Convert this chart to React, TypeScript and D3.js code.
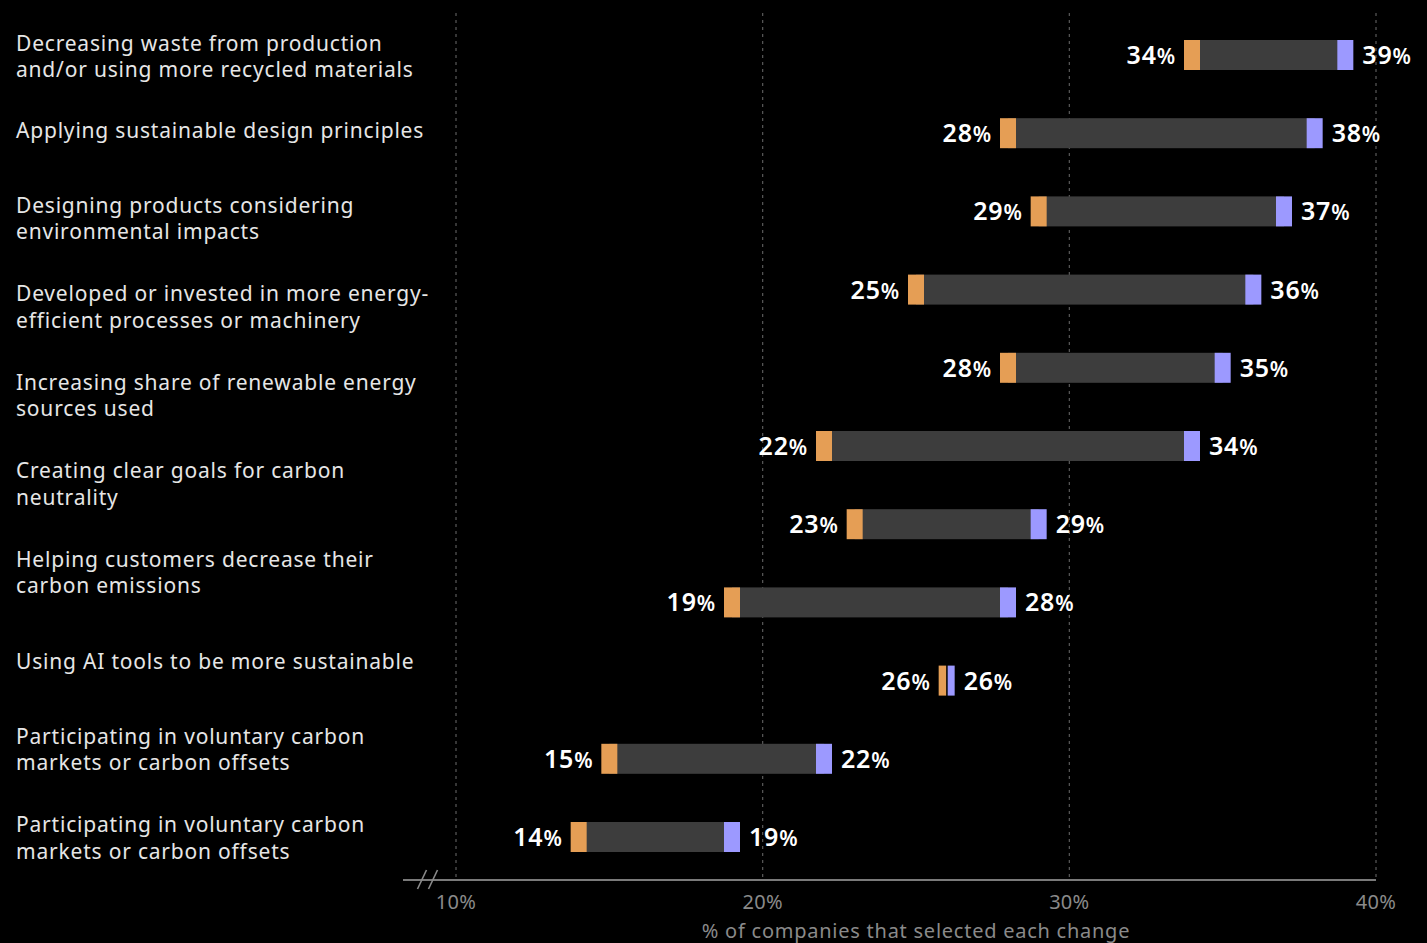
import React, { useEffect } from "react";
import * as d3 from "d3";

const labels: string[][] = [
  ["Decreasing waste from production", "and/or using more recycled materials"],
  ["Applying sustainable design principles"],
  ["Designing products considering", "environmental impacts"],
  ["Developed or invested in more energy-", "efficient processes or machinery"],
  ["Increasing share of renewable energy", "sources used"],
  ["Creating clear goals for carbon", "neutrality"],
  ["Helping customers decrease their", "carbon emissions"],
  ["Using AI tools to be more sustainable"],
  ["Participating in voluntary carbon", "markets or carbon offsets"],
  ["Participating in voluntary carbon", "markets or carbon offsets"],
];

const startValues = [34, 28, 29, 25, 28, 22, 23, 19, 26, 15, 14];
const endValues = [39, 38, 37, 36, 35, 34, 29, 28, 26, 22, 19];
const tickValues = [10, 20, 30, 40];
const axisTitle = "% of companies that selected each change";

const W = 1427;
const H = 943;
const FONT = "'Noto Sans', 'Open Sans', sans-serif";
const ORANGE = "#E59E55";
const PURPLE = "#9C99FF";
const BARGRAY = "#3D3D3D";

export default function App() {
  useEffect(() => {
    document.body.style.margin = "0";
    document.body.style.background = "#000";
  }, []);

  const x = d3.scaleLinear().domain([10, 40]).range([456, 1376]);
  const rows = d3.range(startValues.length);
  const y = d3.scalePoint<number>().domain(rows).range([55, 837]);
  const labelY = d3.scalePoint<number>().domain(d3.range(labels.length)).range([41.5, 838]);
  const barH = 30;
  const mW = 16;
  const lineH = 26.5;
  const axisY = 880;

  return (
    <svg width={W} height={H} style={{ display: "block", background: "#000" }} fontFamily={FONT}>
      <rect x={0} y={0} width={W} height={H} fill="#000" />
      {/* gridlines */}
      {tickValues.map((t) => (
        <line key={"g" + t} x1={x(t)} x2={x(t)} y1={13} y2={axisY} stroke="#5a5a5a" strokeWidth={1.2} strokeDasharray="3,4" />
      ))}
      {/* category labels */}
      {labels.map((lines, i) => {
        const c = labelY(i)!;
        const first = Math.max(c - ((lines.length - 1) * lineH) / 2, 43);
        return (
          <text key={"l" + i} x={16} fill="#e6e6e6" fontSize={21} letterSpacing={0.8}>
            {lines.map((ln, j) => (
              <tspan key={j} x={16} y={first + j * lineH + 7.5}>
                {ln}
              </tspan>
            ))}
          </text>
        );
      })}
      {/* bars */}
      {rows.map((i) => {
        const cy = y(i)!;
        const xs = x(startValues[i]);
        const xe = x(endValues[i]);
        let o0 = xs - mW / 2, o1 = xs + mW / 2, p0 = xe - mW / 2, p1 = xe + mW / 2;
        if (xe - xs < mW) {
          const mid = (xs + xe) / 2;
          o1 = mid - 0.5;
          p0 = mid + 1;
        }
        const top = cy - barH / 2;
        const base = cy + 9;
        return (
          <g key={"b" + i}>
            <rect x={xs} y={top} width={Math.max(0, xe - xs)} height={barH} fill={BARGRAY} />
            <rect x={o0} y={top} width={o1 - o0} height={barH} fill={ORANGE} />
            <rect x={p0} y={top} width={p1 - p0} height={barH} fill={PURPLE} />
            <text x={o0 - 8} y={base} textAnchor="end" fill="#fff" fontWeight={600} letterSpacing={0.8}>
              <tspan fontSize={25}>{startValues[i]}</tspan>
              <tspan fontSize={21}>%</tspan>
            </text>
            <text x={p1 + 9} y={base} textAnchor="start" fill="#fff" fontWeight={600} letterSpacing={0.8}>
              <tspan fontSize={25}>{endValues[i]}</tspan>
              <tspan fontSize={21}>%</tspan>
            </text>
          </g>
        );
      })}
      {/* axis */}
      <line x1={403} x2={x(40)} y1={axisY} y2={axisY} stroke="#7a7a7a" strokeWidth={2} />
      <line x1={417.5} y1={889} x2={426.5} y2={870} stroke="#8a8a8a" strokeWidth={1.6} />
      <line x1={428.5} y1={889} x2={437.5} y2={870} stroke="#8a8a8a" strokeWidth={1.6} />
      {tickValues.map((t) => (
        <text key={"t" + t} x={x(t)} y={909} textAnchor="middle" fill="#8a8a8a" fontSize={20} letterSpacing={0.3}>
          {t}%
        </text>
      ))}
      <text x={(x(10) + x(40)) / 2} y={938} textAnchor="middle" fill="#8a8a8a" fontSize={20} letterSpacing={0.75}>
        {axisTitle}
      </text>
    </svg>
  );
}
